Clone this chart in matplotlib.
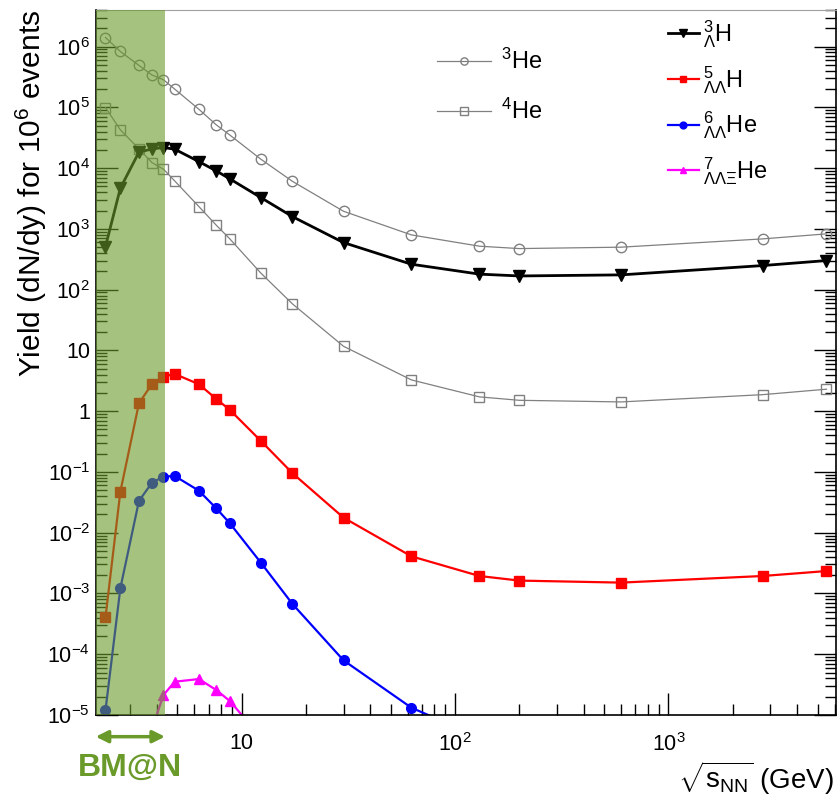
import math
import matplotlib
matplotlib.use('Agg')
import matplotlib.pyplot as plt
from matplotlib.patches import FancyArrowPatch
from matplotlib.ticker import LogLocator, FixedLocator, FuncFormatter, NullFormatter

plt.rcParams['font.family'] = ['Liberation Sans', 'DejaVu Sans']
plt.rcParams['mathtext.fontset'] = 'custom'
plt.rcParams['mathtext.rm'] = 'Liberation Sans'
plt.rcParams['mathtext.it'] = 'Liberation Sans:italic'
plt.rcParams['mathtext.bf'] = 'Liberation Sans:bold'

# collision energy sqrt(s_NN), GeV
energy = [2.3, 2.7, 3.3, 3.8, 4.3, 4.85, 6.3, 7.6, 8.8, 12.3, 17.3, 30, 62.4, 130, 200, 600, 2760, 5500]

he3 = [1.41e6, 8.3e5, 4.9e5, 3.4e5, 2.84e5, 2.0e5, 9.3e4, 5.15e4, 3.5e4, 1.4e4, 6.05e3,
       1.95e3, 796, 519, 474, 500, 684, 828]
he4 = [9.93e4, 4.26e4, 2.07e4, 1.23e4, 9.6e3, 6.17e3, 2.33e3, 1.15e3, 684, 187, 58.2,
       11.7, 3.27, 1.72, 1.51, 1.42, 1.87, 2.30]
h3_l = [512, 4680, 1.83e4, 2.07e4, 2.18e4, 2.05e4, 1.28e4, 9.0e3, 6.65e3, 3.27e3, 1.59e3,
        595, 262, 180, 168, 175, 249, 301]
h5_ll = [4.06e-4, 0.0474, 1.35, 2.81, 3.71, 4.10, 2.78, 1.59, 1.05, 0.324, 0.0953,
         0.0177, 4.09e-3, 1.94e-3, 1.63e-3, 1.51e-3, 1.94e-3, 2.34e-3]
he6_ll = [1.2e-5, 1.22e-3, 0.0334, 0.0667, 0.0837, 0.0859, 0.0492, 0.0252, 0.0143,
          3.21e-3, 6.71e-4, 7.94e-5, 1.32e-5, 4.3e-6]
he7_llx_energy = [3.8, 4.3, 4.85, 6.3, 7.6, 8.8, 12.3]
he7_llx = [6e-6, 2.13e-5, 3.53e-5, 3.91e-5, 2.58e-5, 1.70e-5, 4.3e-6]
x_major = [10, 100, 1000]
y_major = [1e-5, 1e-4, 1e-3, 1e-2, 1e-1, 1, 10, 1e2, 1e3, 1e4, 1e5, 1e6]

bman_max = 4.37
green = '#6a9a2a'
gray = '#808080'

fig = plt.figure(figsize=(8.39, 7.99), dpi=100)
ax = fig.add_axes([0.1141, 0.1051, 0.8824, 0.8824])
ax.set_xscale('log')
ax.set_yscale('log')
ax.set_xlim(2.07, 6100)
ax.set_ylim(1e-5, 4e6)

l_he3, = ax.plot(energy, he3, color=gray, lw=0.9, marker='o', mfc='none', mec=gray, ms=7.5, mew=1.0)
l_he4, = ax.plot(energy, he4, color=gray, lw=0.9, marker='s', mfc='none', mec=gray, ms=7.5, mew=1.0)
l_h3, = ax.plot(energy, h3_l, color='black', lw=2.0, marker='v', ms=8)
l_h5, = ax.plot(energy, h5_ll, color='red', lw=1.6, marker='s', ms=7)
l_he6, = ax.plot(energy[:len(he6_ll)], he6_ll, color='blue', lw=1.6, marker='o', ms=7)
l_he7, = ax.plot(he7_llx_energy, he7_llx, color='magenta', lw=1.6, marker='^', ms=7)

# BM@N energy range, drawn over the curves
ax.axvspan(ax.get_xlim()[0], bman_max, color=green, alpha=0.6, lw=0, zorder=3)

def pow10(v, pos):
    e = int(round(math.log10(v)))
    if e == 0:
        return '1'
    if e == 1:
        return '10'
    return r'$10^{%d}$' % e

ax.xaxis.set_major_locator(FixedLocator(x_major))
ax.xaxis.set_minor_locator(LogLocator(base=10, subs=range(2, 10), numticks=20))
ax.yaxis.set_major_locator(FixedLocator(y_major))
ax.yaxis.set_minor_locator(LogLocator(base=10, subs=range(2, 10), numticks=20))
ax.xaxis.set_major_formatter(FuncFormatter(pow10))
ax.yaxis.set_major_formatter(FuncFormatter(pow10))
ax.xaxis.set_minor_formatter(NullFormatter())
ax.yaxis.set_minor_formatter(NullFormatter())
ax.tick_params(which='both', direction='in', left=True, right=True, top=False, bottom=True,
               labelsize=15.5, width=1.0)
ax.tick_params(which='major', length=16)
ax.tick_params(which='minor', length=8)
ax.tick_params(axis='x', pad=13)
ax.tick_params(axis='y', pad=4)
ax.spines['top'].set_color('#a0a0a0')
for s in ['bottom', 'right', 'left']:
    ax.spines[s].set_linewidth(1.2)

fig.text(31 / 839, 1 - 193 / 799, r'Yield (dN/dy) for 10$^{6}$ events', rotation=90,
         ha='center', va='center', fontsize=21.5)
fig.text(834 / 839, 1 - 778 / 799, r'$\sqrt{\mathrm{s}_{\mathrm{NN}}}$ (GeV)',
         ha='right', va='center', fontsize=20)

leg1 = ax.legend([l_he3, l_he4], [r'$^{3}$He', r'$^{4}$He'], loc='upper left',
                 bbox_to_anchor=(437 / 839, 1 - 49 / 799), bbox_transform=fig.transFigure,
                 frameon=False, fontsize=17, handlelength=2.3, handletextpad=0.4,
                 labelspacing=1.05, borderpad=0, borderaxespad=0, markerscale=0.7)
ax.add_artist(leg1)
ax.legend([l_h3, l_h5, l_he6, l_he7],
          [r'${}^{3}_{\Lambda}$H', r'${}^{5}_{\Lambda\Lambda}$H', r'${}^{6}_{\Lambda\Lambda}$He',
           r'${}^{7}_{\Lambda\Lambda\Xi}$He'],
          loc='upper left', bbox_to_anchor=(668 / 839, 1 - 18 / 799), bbox_transform=fig.transFigure,
          frameon=False, fontsize=17, handlelength=1.3, handletextpad=0.2,
          labelspacing=0.6, borderpad=0, borderaxespad=0, markerscale=0.7)

# double arrow under the BM@N band
x0 = ax.transData.transform((ax.get_xlim()[0], 1))[0] / fig.bbox.width
x1 = ax.transData.transform((bman_max, 1))[0] / fig.bbox.width
arrow = FancyArrowPatch((x0, 0.078), (x1, 0.078), transform=fig.transFigure,
                        arrowstyle='<|-|>', color=green, lw=2.5, mutation_scale=18,
                        shrinkA=0, shrinkB=0)
fig.add_artist(arrow)
fig.text(130 / 839, 1 - 768 / 799, 'BM@N', color=green, fontsize=23, fontweight='bold',
         ha='center', va='center')

fig.savefig('out.png', dpi=100)
